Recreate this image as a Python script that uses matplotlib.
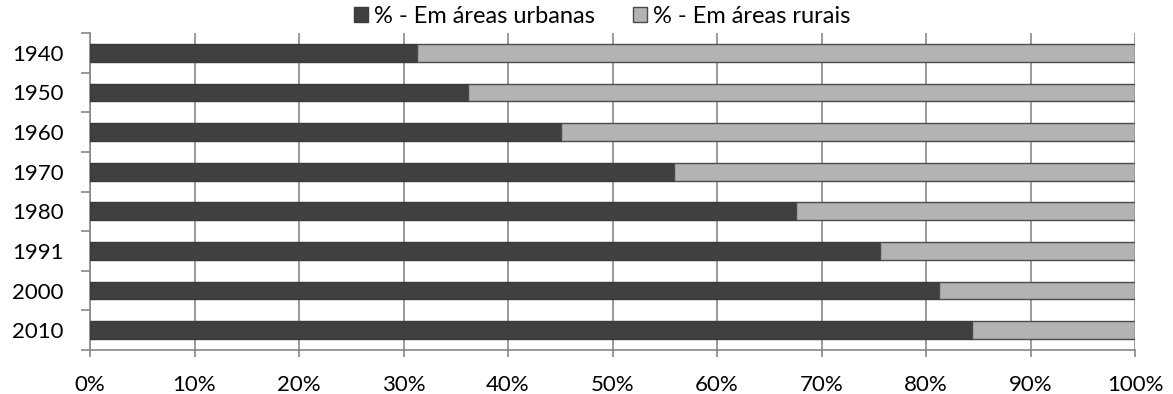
"""Urban vs rural population share, 1940-2010 -> out.png"""
import matplotlib
matplotlib.use("Agg")
import matplotlib.pyplot as plt
from matplotlib.ticker import PercentFormatter

plt.rcParams["font.family"] = ["Lato", "DejaVu Sans"]

anos = ["1940", "1950", "1960", "1970", "1980", "1991", "2000", "2010"]
urbana = [31.3, 36.2, 45.1, 55.9, 67.6, 75.6, 81.2, 84.4]
rural = [68.7, 63.8, 54.9, 44.1, 32.4, 24.4, 18.8, 15.6]
series = ["% - Em áreas urbanas", "% - Em áreas rurais"]

fig = plt.figure(figsize=(11.73, 3.94), dpi=100)
ax = fig.add_axes([90/1173, 44/394, 1045/1173, 317/394])

pos = list(range(len(anos)))[::-1]
ax.barh(pos, urbana, height=0.45, color="#404040", edgecolor="#3a3a3a", lw=1,
        label=series[0], zorder=3)
ax.barh(pos, rural, left=urbana, height=0.45, color="#b3b3b3", edgecolor="#4a4a4a", lw=1,
        label=series[1], zorder=3)

ax.set_xlim(0, 100)
ax.set_ylim(-0.5, len(anos) - 0.5)
ax.set_xticks(range(0, 101, 10))
ax.xaxis.set_major_formatter(PercentFormatter(decimals=0))
ax.set_yticks(pos)
ax.set_yticklabels(anos)
ax.set_yticks([p - 0.5 for p in range(len(anos) + 1)], minor=True)
ax.tick_params(axis="y", which="major", length=0, pad=19, labelsize=16)
ax.tick_params(axis="y", which="minor", length=6.5, width=1.2, color="#888888")
ax.tick_params(axis="x", length=5, width=1.2, color="#888888", pad=13, labelsize=16)
ax.grid(axis="x", color="#8a8a8a", lw=1.2, zorder=0)

for s in ["top", "right"]:
    ax.spines[s].set_visible(False)
for s in ["left", "bottom"]:
    ax.spines[s].set_color("#888888")
    ax.spines[s].set_linewidth(1.2)

ax.legend(loc="lower center", bbox_to_anchor=(0.49, 0.99), ncol=2, frameon=False,
          fontsize=17, handlelength=0.6, handleheight=0.6, handletextpad=0.25,
          columnspacing=1.6, borderaxespad=0)

fig.savefig("out.png", dpi=100)
